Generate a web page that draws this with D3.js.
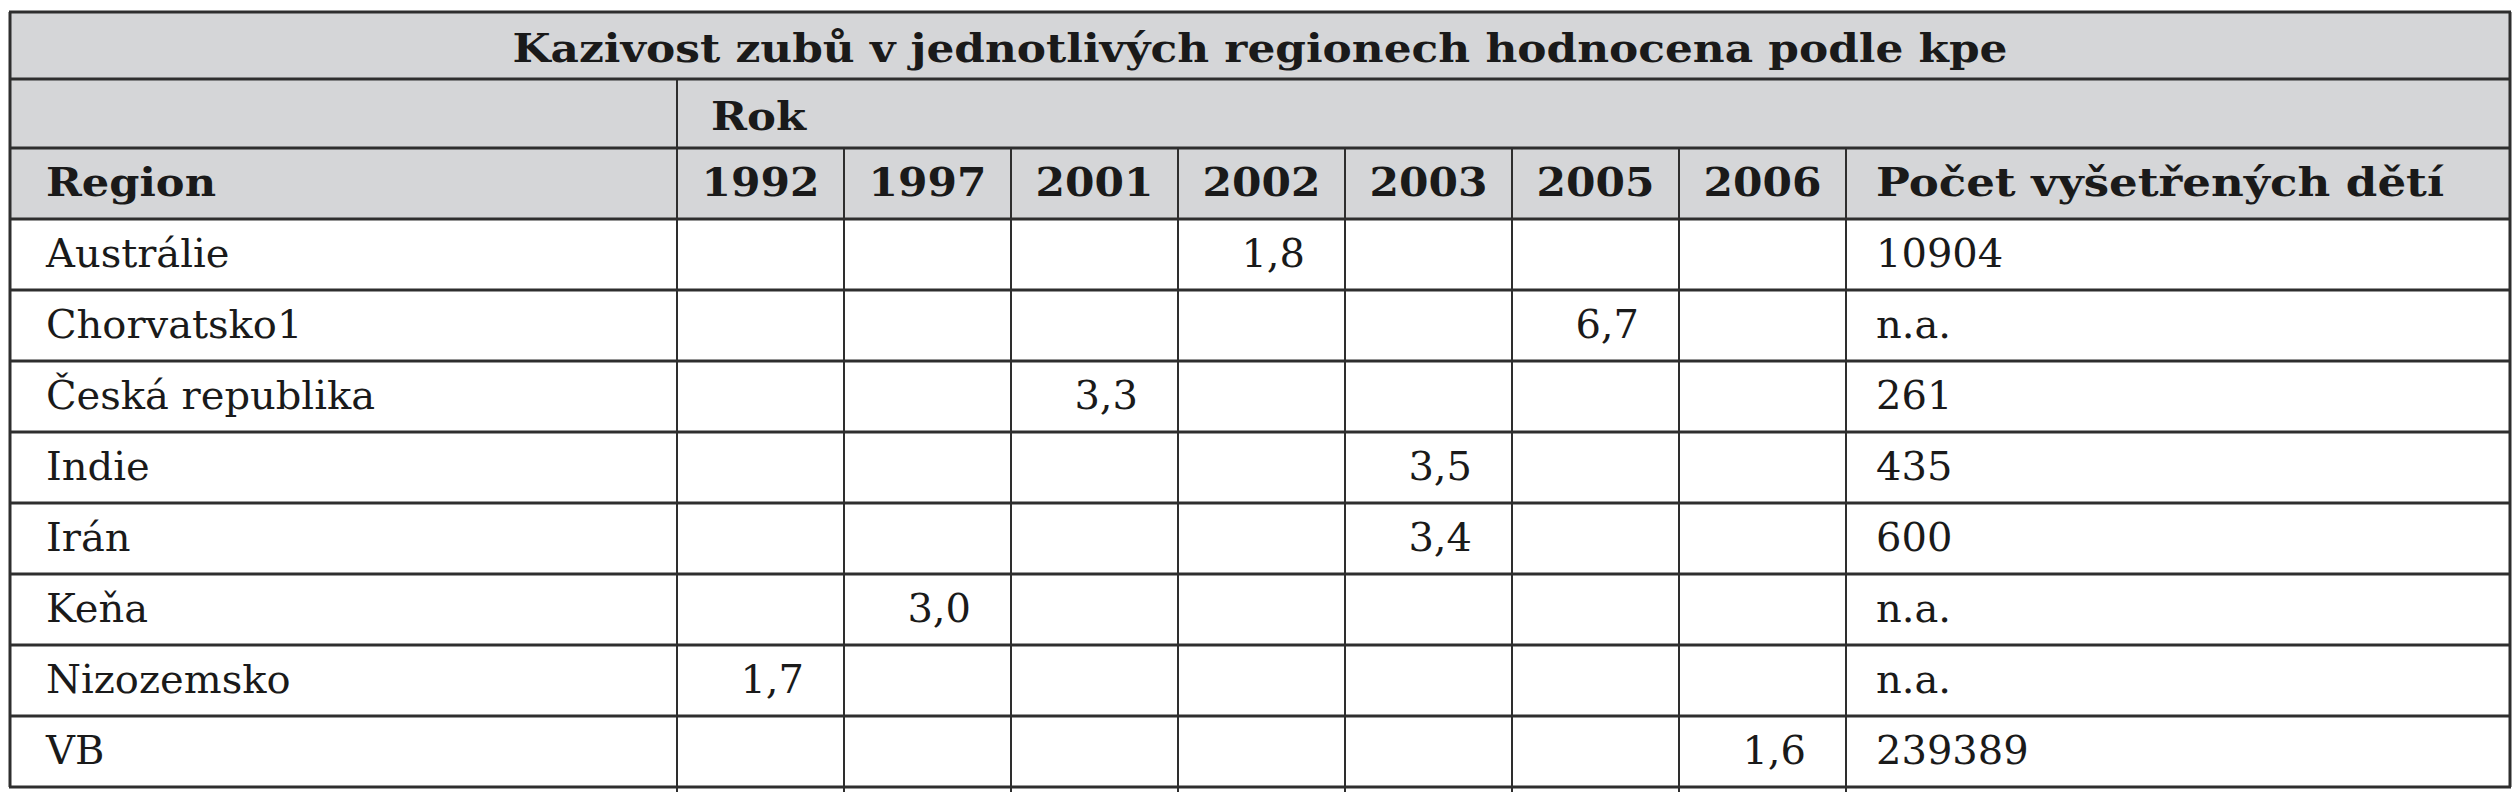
<!DOCTYPE html>
<html><head><meta charset="utf-8">
<script src="https://cdn.jsdelivr.net/npm/d3@7"></script>
<style>body{margin:0;background:#fff}</style></head>
<body><svg id="c" width="2520" height="800"></svg>
<script>
const title = "Kazivost zubů v jednotlivých regionech hodnocena podle kpe";
const years = ["1992","1997","2001","2002","2003","2005","2006"];
const regions = ["Austrálie","Chorvatsko1","Česká republika","Indie","Irán","Keňa","Nizozemsko","VB"];
const kpeYear = ["2002","2005","2001","2003","2003","1997","1992","2006"];
const kpeValue = ["1,8","6,7","3,3","3,5","3,4","3,0","1,7","1,6"];
const counts = ["10904","n.a.","261","435","600","n.a.","n.a.","239389"];

const svg = d3.select("#c");
const L = 10, R = 2510, T0 = 12, bottom = 787;
const x = d3.scaleBand().domain(years).range([677, 1846]);
const y = d3.scaleBand().domain(["hdr", ...regions]).range([148, bottom]);
const grey = "#d5d6d8", lineC = "#2e2e2e";
const serif = "'DejaVu Serif', serif";

svg.append("rect").attr("x", L).attr("y", T0).attr("width", R-L).attr("height", y("hdr")+y.bandwidth()-T0).attr("fill", grey);

function fitText(sel, w){ sel.each(function(){ const l=this.getComputedTextLength(); if(l>0) d3.select(this).attr("textLength", w).attr("lengthAdjust","spacingAndGlyphs"); }); }
function bold(x0, y0, txt, anchor){
  return svg.append("text").attr("x", x0).attr("y", y0).attr("text-anchor", anchor||"start")
    .attr("font-family", serif).attr("font-weight","bold").attr("font-size", 40).attr("fill","#1a1a1a").text(txt);
}

fitText(bold((L+R)/2, 62, title, "middle"), 1495);
fitText(bold(711, 130, "Rok"), 95);
const hb = y("hdr") + 48;
fitText(bold(46, hb, "Region"), 170);
years.forEach(d => fitText(bold(x(d)+x.bandwidth()/2, hb, d, "middle"), 118));
fitText(bold(1876, hb, "Počet vyšetřených dětí"), 568);

const body = svg.append("g").attr("font-family", serif).attr("font-size", 40).attr("fill","#1a1a1a");
body.selectAll("text.rg").data(regions).join("text").attr("class","rg")
  .attr("x", 46).attr("y", d=>y(d)+48).text(d=>d);
body.selectAll("text.val").data(regions).join("text").attr("class","val")
  .attr("x", (d,i)=>x(kpeYear[i])+x.bandwidth()-40).attr("y", d=>y(d)+48).attr("text-anchor","end").text((d,i)=>kpeValue[i]);
body.selectAll("text.cnt").data(regions).join("text").attr("class","cnt")
  .attr("x", 1876).attr("y", d=>y(d)+48).text((d,i)=>counts[i]);

const hs = [T0, 79, 148, ...regions.map(r=>y(r)), bottom];
svg.selectAll("line.h").data(hs).join("line").attr("class","h")
  .attr("x1", L-1).attr("x2", R+1).attr("y1", d=>d).attr("y2", d=>d).attr("stroke", lineC).attr("stroke-width", 3);
svg.append("line").attr("x1", L).attr("x2", L).attr("y1", T0).attr("y2", bottom).attr("stroke", lineC).attr("stroke-width", 3);
svg.append("line").attr("x1", R).attr("x2", R).attr("y1", T0).attr("y2", bottom).attr("stroke", lineC).attr("stroke-width", 3);
svg.append("line").attr("x1", 677).attr("x2", 677).attr("y1", 79).attr("y2", bottom+5).attr("stroke", lineC).attr("stroke-width", 2);
svg.selectAll("line.v").data([...years.slice(1).map(d=>x(d)), 1846]).join("line").attr("class","v")
  .attr("x1", d=>d).attr("x2", d=>d).attr("y1", 148).attr("y2", bottom+5).attr("stroke", lineC).attr("stroke-width", 2);
</script></body></html>
